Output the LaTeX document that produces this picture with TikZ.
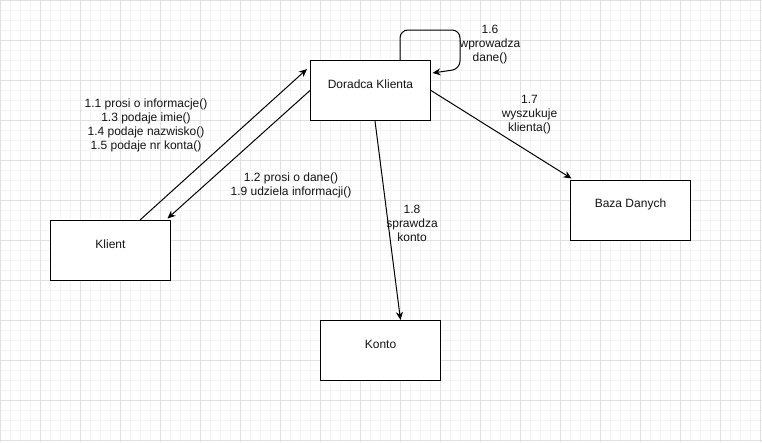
\documentclass[tikz,border=0pt]{standalone}
\usepackage{fontspec}
\setmainfont{Liberation Sans}
\usetikzlibrary{arrows.meta,calc}
\definecolor{gmaj}{RGB}{224,224,224}
\definecolor{gmin}{RGB}{244,244,244}
\definecolor{txt}{RGB}{20,20,20}
\newcommand{\boxtxt}[1]{\raisebox{6.5pt}[\height][\depth]{#1}}
\begin{document}
\begin{tikzpicture}[x=1pt,y=-1pt,
  umlbox/.style={draw=black, line width=1pt, fill=white, minimum width=120pt, minimum height=60pt, inner sep=0pt, anchor=north west, text=txt, font=\fontsize{12}{14}\selectfont},
  msg/.style={align=center, text=txt, font=\fontsize{12}{14}\selectfont, inner sep=0pt},
  conn/.style={draw=black, line width=1pt, -{Stealth[length=8pt,width=7pt,inset=2.5pt]}},
  gridmin/.style={draw=gmin, line width=1pt},
  gridmaj/.style={draw=gmaj, line width=1pt}
  ]
\useasboundingbox (0,0) rectangle (762,442);
\fill[white] (0,0) rectangle (762,442);
% grid
\foreach \i in {0,10,...,760} \draw[gridmin] (\i,0) -- (\i,442);
\foreach \j in {0,10,...,440} \draw[gridmin] (0,\j) -- (762,\j);
\foreach \i in {0,40,...,760} \draw[gridmaj] (\i,0) -- (\i,442);
\foreach \j in {0,40,...,440} \draw[gridmaj] (0,\j) -- (762,\j);
% boxes
\node[umlbox] (dk) at (310,60) {\boxtxt{Doradca Klienta}};
\node[umlbox] (kl) at (50,220) {\boxtxt{Klient}};
\node[umlbox] (bd) at (570,180) {\boxtxt{Baza Danych}};
\node[umlbox] (ko) at (320,320) {\boxtxt{Konto}};
% connectors
\draw[conn] ($(kl.north west)+(90,0)$) -- ($(dk.north west)+(-3,9)$);
\draw[conn] (dk.west) -- ($(kl.north east)+(-3.5,-1.5)$);
\draw[conn] (dk.east) -- ($(bd.north west)+(1.5,-1.5)$);
\draw[conn] ($(dk.south west)+(65,0)$) -- ($(ko.north)+(20,0)$);
\draw[conn, rounded corners=8pt] ($(dk.north west)+(90,0)$) -- ++(0,-30) -- ++(60,0) -- ++(0,39) -- ($(dk.north east)+(1.5,13)$);
% labels
\node[msg] (m1) at (146,125) {1.1 prosi o informacje()\\1.3 podaje imie()\\1.4 podaje nazwisko()\\1.5 podaje nr konta()};
\node[msg] (m2) at (291,185) {1.2 prosi o dane()\\1.9 udziela informacji()};
\node[msg] (m3) at (490,44.5) {1.6\\wprowadza\\dane()};
\node[msg] (m4) at (529.5,114.5) {1.7\\wyszukuje\\klienta()};
\node[msg] (m5) at (412,223.5) {1.8\\sprawdza\\konto};
\end{tikzpicture}
\end{document}
